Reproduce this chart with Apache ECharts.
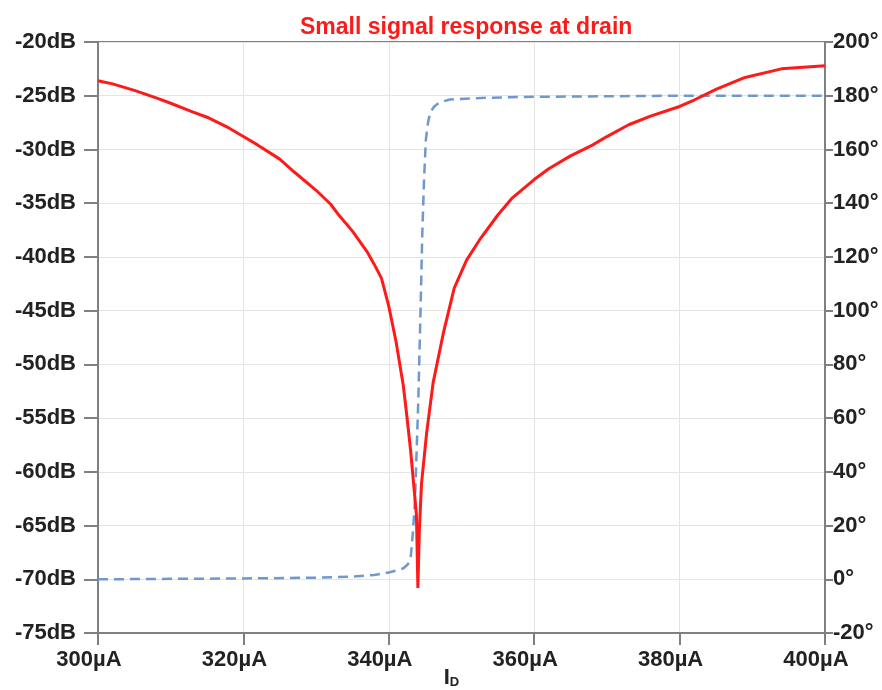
<!DOCTYPE html>
<html>
<head>
<meta charset="utf-8">
<script src="https://cdn.jsdelivr.net/npm/echarts@6/dist/echarts.min.js"></script>
<style>
html,body{margin:0;padding:0;background:#fff;overflow:hidden;}
#chart{width:882px;height:690px;}
</style>
</head>
<body>
<div id="chart"></div>
<script>
// Magnitude response (µA, dB)
var magX = [300,302,305,308,310,313,315,318,320,322,325,327,330,332,333,335,337,338,339,340,341,342,342.5,343,343.4,343.8,344.0,344.2,344.5,345.2,346.1,347.5,349,350.7,352.5,355,357,360,362,365,368,370,373,376,380,382,385,389,394,400];
var magY = [-23.6,-23.9,-24.5,-25.2,-25.7,-26.5,-27.0,-28.0,-28.8,-29.6,-30.9,-32.1,-33.8,-35.1,-36.0,-37.6,-39.5,-40.7,-42.0,-44.6,-47.9,-52.0,-54.9,-58.0,-61.0,-64.0,-70.8,-65.5,-61.1,-56.4,-51.7,-47.1,-42.9,-40.3,-38.4,-36.1,-34.5,-32.8,-31.8,-30.6,-29.6,-28.8,-27.7,-26.9,-26.0,-25.4,-24.4,-23.3,-22.5,-22.2];
// Phase response (µA, degrees)
var phX = [300,320,330,335,338,340,341,342,342.6,343,343.3,343.6,344.06,344.4,344.6,344.85,345.1,345.4,345.7,346.2,346.6,347.5,348.4,352,356,360,370,380,390,400];
var phY = [0,0.3,0.6,1,1.6,2.5,3.2,4.1,5.5,7.6,17,29,66.8,104,128,148.8,163.7,170,173.8,175.8,176.8,177.9,178.6,179.1,179.4,179.6,179.8,180,180,180];

var titleText = 'Small signal response at drain';

function pairs(xs, ys){ return xs.map(function(x,i){ return [x, ys[i]]; }); }

var chart = echarts.init(document.getElementById('chart'));
var FF = 'Liberation Sans, Arial, sans-serif';
var lblFont = {color:'#222', fontFamily:FF, fontWeight:'bold', fontSize:22};
chart.setOption({
  animation:false,
  backgroundColor:'#fff',
  title:{
    text:titleText, left:295, top:11,
    textStyle:{color:'#ff1a1a', fontFamily:FF, fontWeight:'bold', fontSize:23}
  },
  grid:{left:98, right:57, top:42, bottom:57, containLabel:false, outerBoundsMode:'none',
        show:true, borderColor:'#808080', borderWidth:2, backgroundColor:'transparent'},
  xAxis:{
    type:'value', min:300, max:400, interval:20,
    name:'I{sub|D}', nameLocation:'middle', nameGap:34, nameMoveOverlap:false,
    nameTextStyle:{
      color:'#222', fontFamily:FF, fontWeight:'bold', fontSize:22, padding:[0,20,0,0],
      rich:{sub:{fontSize:13, fontWeight:'bold', fontFamily:FF, color:'#222', verticalAlign:'bottom', padding:[8,0,0,0]}}
    },
    axisLine:{show:true, onZero:false, lineStyle:{color:'#808080', width:2}},
    axisTick:{show:true, inside:false, length:12, lineStyle:{color:'#808080', width:2}},
    axisLabel:Object.assign({formatter:'{value}µA', margin:16, padding:[0,18,0,0]}, lblFont),
    splitLine:{show:true, lineStyle:{color:'#e4e4e4', width:1}}
  },
  yAxis:[{
    type:'value', min:-75, max:-20, interval:5, position:'left',
    axisLine:{show:true, onZero:false, lineStyle:{color:'#808080', width:2}},
    axisTick:{show:true, inside:false, length:14, lineStyle:{color:'#808080', width:2}},
    axisLabel:Object.assign({formatter:'{value}dB', margin:22}, lblFont),
    splitLine:{show:true, lineStyle:{color:'#e4e4e4', width:1}}
  },{
    type:'value', min:-20, max:200, interval:20, position:'right',
    axisLine:{show:true, onZero:false, lineStyle:{color:'#808080', width:2}},
    axisTick:{show:true, inside:false, length:8, lineStyle:{color:'#808080', width:2}},
    axisLabel:Object.assign({formatter:'{value}°', margin:8}, lblFont),
    splitLine:{show:false}
  }],
  series:[{
    type:'line', name:'phase', yAxisIndex:1, data:pairs(phX, phY),
    showSymbol:false, smooth:false,
    lineStyle:{color:'#7098cc', width:2.5, type:[10,6]}
  },{
    type:'line', name:'magnitude', yAxisIndex:0, data:pairs(magX, magY),
    showSymbol:false, smooth:false,
    lineStyle:{color:'#ff1a1a', width:3}
  }]
});
</script>
</body>
</html>
